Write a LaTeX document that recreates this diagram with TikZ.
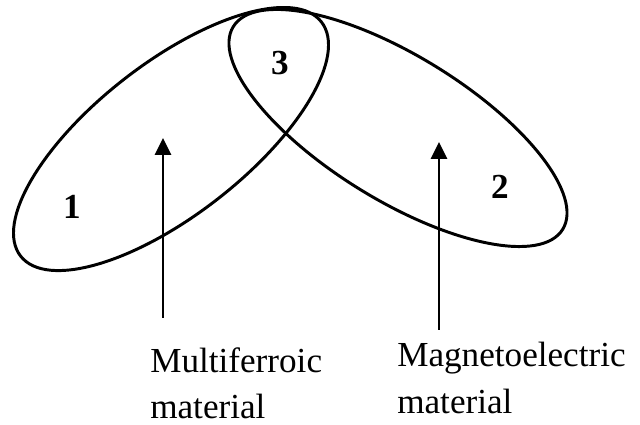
\documentclass[tikz,border=0pt]{standalone}
\usepackage{fontspec}
\setmainfont{Liberation Serif}
\usetikzlibrary{arrows.meta}

\begin{document}
\begin{tikzpicture}[x=0.025cm,y=0.025cm,
  ring/.style={line width=2.1pt},
  lab/.style={font=\fontsize{25}{33}\selectfont,align=left,inner sep=0pt,anchor=north west},
  num/.style={font=\fontsize{25}{30}\selectfont\bfseries,inner sep=0pt},
  pointer/.style={line width=1.4pt,-{Triangle[length=12pt,width=11.5pt]}}]
\useasboundingbox (0,0) rectangle (640,425);
\coordinate (L) at (171,286); \coordinate (R) at (398,297);
\draw[ring,rotate around={37.9:(L)}] (L) ellipse (190.6 and 76);
\draw[ring,rotate around={-31.6:(R)}] (R) ellipse (193.4 and 72.2);
\node[num] (one) at (72,218) {1};
\node[num] (three) at (280,362) {3};
\node[num] (two) at (500,238) {2};
\node[lab] (multi) at (150,78) {Multiferroic\\material};
\node[lab] (magneto) at (397,83) {Magnetoelectric\\material};
\coordinate (mftip) at (163,287); \coordinate (mfbot) at (163,107);
\coordinate (metip) at (439,283); \coordinate (mebot) at (439,95);
\draw[pointer] (mfbot) -- (mftip);
\draw[pointer] (mebot) -- (metip);
\end{tikzpicture}
\end{document}
